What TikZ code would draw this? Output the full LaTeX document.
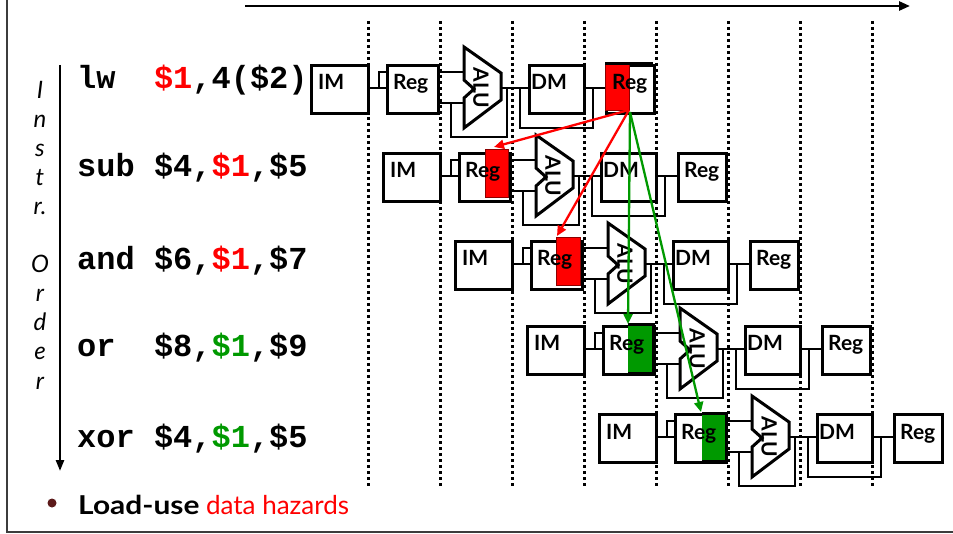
\documentclass[tikz,border=0pt]{standalone}
\usepackage{fontspec}
\setmainfont{Lato}
\newfontfamily\monof{Liberation Mono}
\usepackage{graphicx}
\usetikzlibrary{arrows.meta}
\definecolor{myred}{RGB}{255,0,0}
\definecolor{mygreen}{RGB}{0,153,0}
\definecolor{bulletc}{RGB}{92,26,26}
\definecolor{framec}{RGB}{60,60,60}
\begin{document}
\begin{tikzpicture}[x=1pt,y=-1pt,
  blk/.style={draw=black,line width=3pt,fill=white},
  wire/.style={line width=2.7pt,line join=miter},
  lbl/.style={font=\fontsize{21}{21}\selectfont\bfseries,inner sep=0pt,anchor=base west},
  instr/.style={font=\monof\bfseries\fontsize{32}{32}\selectfont,inner sep=0pt,anchor=base west},
  ord/.style={font=\itshape\fontsize{24}{24}\selectfont,inner sep=0pt,anchor=base},
  dotline/.style={line width=3pt,dash pattern=on 3pt off 3pt},
  redhl/.style={fill=myred,draw=red!55!black,line width=0.8pt},
  grnhl/.style={fill=mygreen,draw=none},
  redarr/.style={draw=myred,line width=2.3pt,-{Triangle[length=10pt,width=9pt]}},
  grnarr/.style={draw=mygreen,line width=2.3pt,-{Triangle[length=10pt,width=9pt]}}]
\useasboundingbox (0,0) rectangle (953,534);
\fill[white] (0,0) rectangle (953,534);
% frame
\draw[framec,line width=2pt] (7,0) -- (7,532) -- (953,532);
% time arrow
\coordinate (t0) at (245,6);
\coordinate (t1) at (910,6);
\draw[line width=2.6pt,-{Triangle[length=11pt,width=9pt]}] (t0) -- (t1);
% dotted stage lines
\foreach \x in {368,440,512,584,656,728,800,872}
  \draw[dotline] (\x,21) -- (\x,488);
% pipeline rows
\foreach \i/\cy in {0/88,1/176,2/264,3/349,4/437}{
 \begin{scope}[shift={(72*\i,\cy)}]
  % wires
  \draw[wire] (367,0) -- (386,0);
  \draw[wire] (379,0) -- (379,-16) -- (386,-16);
  \draw[wire] (437,-16) -- (464,-16);
  \draw[wire] (437,15) -- (464,15);
  \draw[wire] (451,15) -- (451,49) -- (507,49) -- (507,0);
  \draw[wire] (501,0) -- (528,0);
  \draw[wire] (520,0) -- (520,40) -- (593,40) -- (593,0);
  \draw[wire] (583,0) -- (605,0);
  % boxes
  \node[blk,minimum width=57pt,minimum height=48pt,inner sep=0pt,anchor=north west] (im\i) at (310,-24) {};
  \node[blk,minimum width=51pt,minimum height=48pt,inner sep=0pt,anchor=north west] (reg\i) at (386,-24) {};
  \draw[blk] (464,-41) -- (501,-15) -- (501,12) -- (464,40) -- (464,10) -- (474,1) -- (464,-8) -- cycle;
  \node[blk,minimum width=55pt,minimum height=48pt,inner sep=0pt,anchor=north west] (dm\i) at (528,-24) {};
  \node[blk,minimum width=48pt,minimum height=48pt,inner sep=0pt,anchor=north west] (wb\i) at (605,-24) {};
 \end{scope}
}
% highlighted register halves
\node[redhl,minimum width=24pt,minimum height=48pt,inner sep=0pt,anchor=north west] (hwb) at (605,62) {};
\draw[line width=3pt] (605,64) -- (653,64);
\node[redhl,minimum width=23pt,minimum height=48pt,inner sep=0pt,anchor=north west] (hr1) at (485,149) {};
\node[redhl,minimum width=24pt,minimum height=48pt,inner sep=0pt,anchor=north west] (hr2) at (556,237) {};
\node[grnhl,minimum width=25pt,minimum height=48pt,inner sep=0pt,anchor=north west] (hg3) at (628,325) {};
\draw[line width=3pt] (hg3.north west) -- (hg3.north east) -- (hg3.south east) -- (hg3.south west);
\node[grnhl,minimum width=24pt,minimum height=48pt,inner sep=0pt,anchor=north west] (hg4) at (702,413) {};
\draw[line width=3pt] (hg4.north west) -- (hg4.north east) -- (hg4.south east) -- (hg4.south west);
% labels
\foreach \i/\cy in {0/88,1/176,2/264,3/349,4/437}{
 \begin{scope}[shift={(72*\i,\cy)}]
  \node[lbl] (tim\i) at (318,2) {IM};
  \node[lbl] (treg\i) at (393,2) {Reg};
  \node[font=\fontsize{21}{21}\selectfont\bfseries,inner sep=0pt,rotate=-90] (alu\i) at (481,0) {ALU};
  \node[lbl] (tdm\i) at (531,2) {DM};
  \node[lbl] (twb\i) at (612,2) {Reg};
 \end{scope}
}
% forwarding arrows
\coordinate (src) at (629,110);
\coordinate (src2) at (630,112);
\coordinate (d1) at (494,147);
\coordinate (d2) at (557,236);
\coordinate (d3) at (628,324);
\coordinate (d4) at (701,412);
\draw[redarr] (src) -- (d1);
\draw[redarr] (src) -- (d2);
\draw[grnarr] (src2) -- (d3);
\draw[grnarr] (src2) -- (d4);
% instruction order
\foreach \ch/\yy [count=\k] in {I/99,n/128,s/157,t/186,r./215,O/273,r/302,d/331,e/360,r/389}
  \node[ord] (o\k) at (40,\yy) {\ch};
\coordinate (vtop) at (60,65);
\coordinate (vbot) at (60,471);
\draw[line width=2.4pt,-{Triangle[length=11pt,width=8pt]}] (vtop) -- (vbot);
% instructions
\node[instr] (i1) at (77,89) {lw~~\textcolor{myred}{\$1},4(\$2)};
\node[instr] (i2) at (77,177) {sub \$4,\textcolor{myred}{\$1},\$5};
\node[instr] (i3) at (77,270) {and \$6,\textcolor{myred}{\$1},\$7};
\node[instr] (i4) at (77,357) {or~~\$8,\textcolor{mygreen}{\$1},\$9};
\node[instr] (i5) at (77,447) {xor \$4,\textcolor{mygreen}{\$1},\$5};
% bottom bullet
\node[circle,fill=bulletc,inner sep=0pt,minimum size=9pt] (bul) at (52,503) {};
\node[anchor=base west,inner sep=0pt,font=\fontsize{26}{26}\selectfont] (btxt) at (78,514) {\textbf{\scalebox{1.15}[1]{Load-use}} \textcolor{myred}{data hazards}};
\end{tikzpicture}
\end{document}
